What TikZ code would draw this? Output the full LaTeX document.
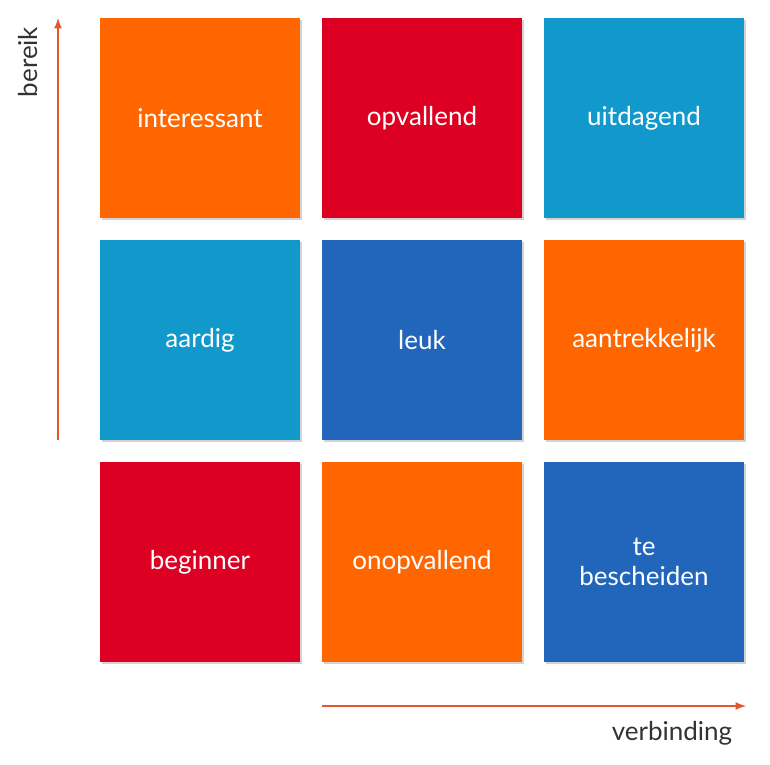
\documentclass[tikz,border=0pt]{standalone}
\usepackage{fontspec}
\setmainfont{Lato}
\usetikzlibrary{shadows}
\definecolor{oranje}{HTML}{FF6600}
\definecolor{rood}{HTML}{DD0022}
\definecolor{lichtblauw}{HTML}{1199CC}
\definecolor{donkerblauw}{HTML}{2266BB}
\definecolor{pijl}{HTML}{E4572E}
\tikzset{
  vlak/.style={minimum size=200pt, inner sep=0pt, text=white, align=center,
    font=\fontsize{26}{30}\selectfont, drop shadow={shadow xshift=2pt, shadow yshift=-2pt, opacity=0.35}},
  as/.style={draw=pijl, line width=2.5pt, -latex},
  aslabel/.style={font=\fontsize{26}{30}\selectfont, text=black!80}
}
\begin{document}
\begin{tikzpicture}[x=1pt,y=-1pt]
   \useasboundingbox (0,0) rectangle (770,764);
   % bovenste rij
   \node[vlak, fill=oranje] (interessant) at (200,118) {interessant};
   \node[vlak, fill=rood] (opvallend) at (422,118) {opvallend};
   \node[vlak, fill=lichtblauw] (uitdagend) at (644,118) {uitdagend};
   % middelste rij
   \node[vlak, fill=lichtblauw] (aardig) at (200,340) {aardig};
   \node[vlak, fill=donkerblauw] (leuk) at (422,340) {leuk};
   \node[vlak, fill=oranje] (aantrekkelijk) at (644,340) {aantrekkelijk};
   % onderste rij
   \node[vlak, fill=rood] (beginner) at (200,562) {beginner};
   \node[vlak, fill=oranje] (onopvallend) at (422,562) {onopvallend};
   \node[vlak, fill=donkerblauw] (bescheiden) at (644,562) {te\\bescheiden};

   % assen
   \coordinate (vonder) at (58,440);
   \coordinate (vboven) at (58,18);
   \coordinate (hlinks) at (322,706);
   \coordinate (hrechts) at (746,706);
   \draw[as] (vonder) -- (vboven);
   \draw[as] (hlinks) -- (hrechts);
   \node[aslabel, rotate=90] (bereik) at (28,62) {bereik};
   \node[aslabel] (verbinding) at (672,733) {verbinding};
\end{tikzpicture}
\end{document}
